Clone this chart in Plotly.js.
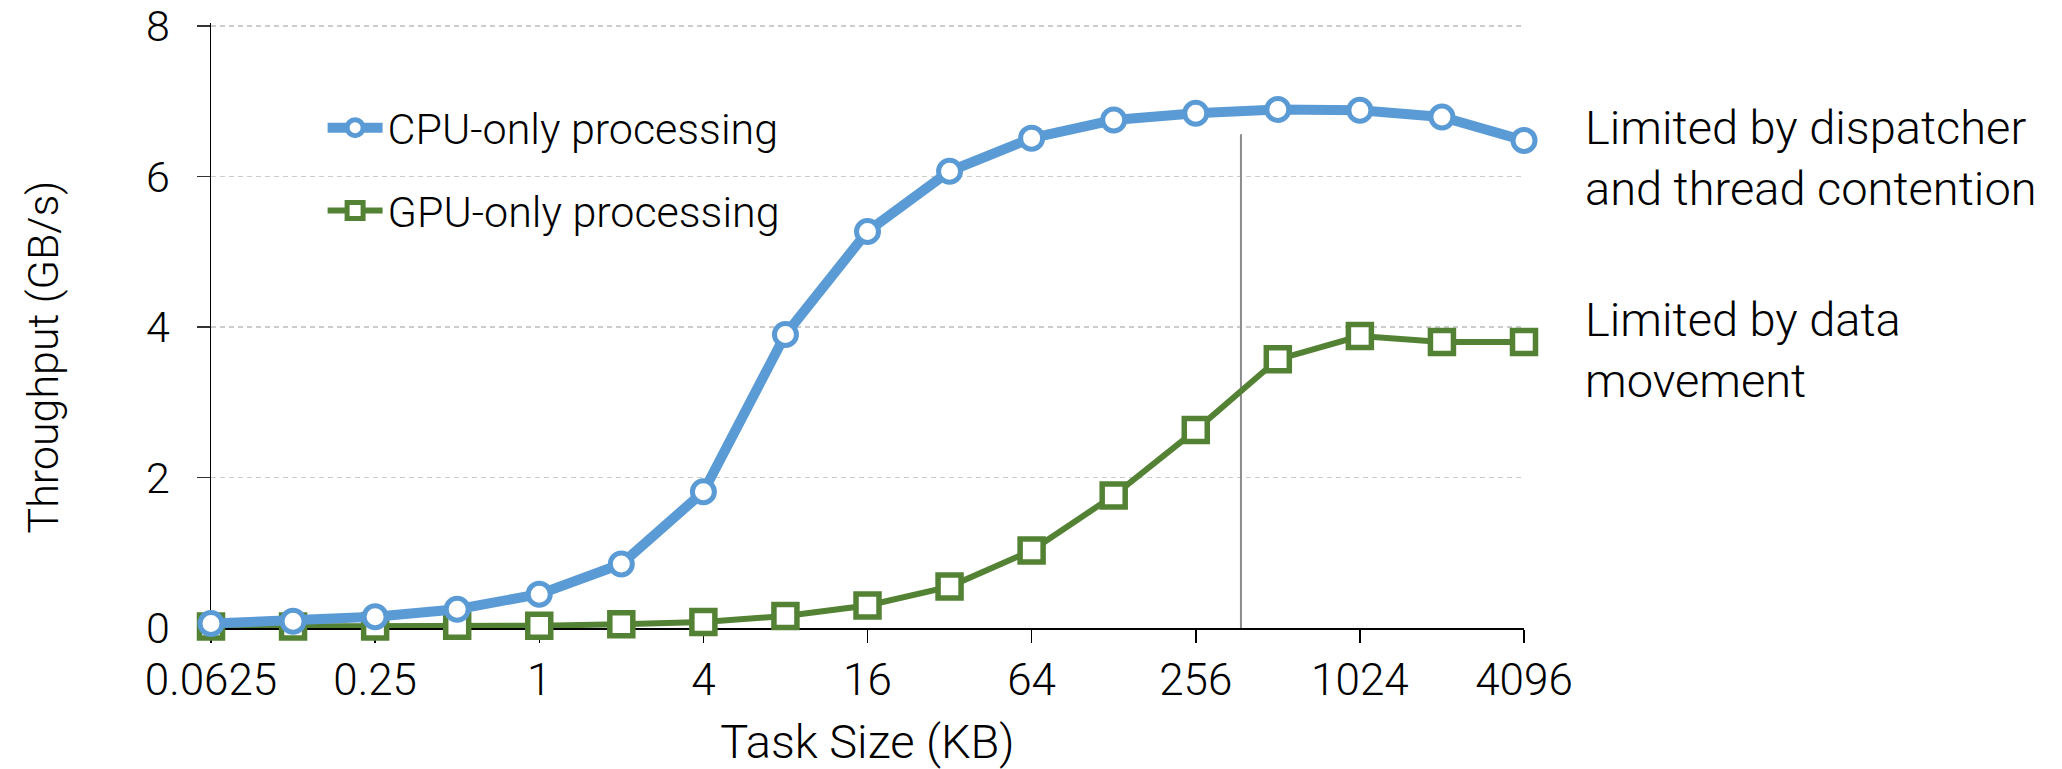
<!DOCTYPE html>
<html>
<head>
<meta charset="utf-8">
<script src="https://cdn.plot.ly/plotly-3.0.1.min.js"></script>
<style>
  html, body { margin: 0; padding: 0; background: #fff; }
  #chart { width: 2062px; height: 769px; }
</style>
</head>
<body>
<div id="chart"></div>
<script>
// Task sizes (KB)
const taskSizeKB = [0.0625, 0.125, 0.25, 0.5, 1, 2, 4, 8, 16, 32, 64, 128, 256, 512, 1024, 2048, 4096];
// Throughput (GB/s)
const cpuThroughput = [0.06, 0.09, 0.15, 0.25, 0.45, 0.85, 1.81, 3.90, 5.27, 6.07, 6.51, 6.75, 6.84, 6.89, 6.88, 6.79, 6.48];
const gpuThroughput = [0.02, 0.02, 0.02, 0.03, 0.03, 0.05, 0.08, 0.16, 0.30, 0.55, 1.03, 1.76, 2.63, 3.57, 3.88, 3.80, 3.80];
// Tick labels
const xTickVals = [0.0625, 0.25, 1, 4, 16, 64, 256, 1024, 4096];
const xTickText = ['0.0625', '0.25', '1', '4', '16', '64', '256', '1024', '4096'];
const yTickVals = [0, 2, 4, 6, 8];
// Divider line between the two regimes
const dividerX = [375, 375];
const dividerY = [0, 6.56];
// Series names, titles and notes
const seriesNames = ['CPU-only processing', 'GPU-only processing'];
const xTitle = 'Task Size (KB)';
const yTitle = 'Throughput (GB/s)';
const noteCPU = 'Limited by dispatcher<br>and thread contention';
const noteGPU = 'Limited by data<br>movement';

const FONT = '"Roboto Light", Roboto, "Liberation Sans", Arial, sans-serif';

const traces = [
  {
    x: dividerX, y: dividerY, type: 'scatter', mode: 'lines',
    line: { color: '#8c8c8c', width: 2 },
    showlegend: false, hoverinfo: 'skip', cliponaxis: false
  },
  {
    x: taskSizeKB, y: gpuThroughput, type: 'scatter', mode: 'lines+markers',
    name: seriesNames[1], legendgroup: 'g', legendrank: 2,
    line: { color: '#548235', width: 6 },
    marker: { symbol: 'square', size: 23, color: '#ffffff', line: { color: '#548235', width: 5.5 } },
    cliponaxis: false
  },
  {
    x: taskSizeKB, y: cpuThroughput, type: 'scatter', mode: 'lines+markers',
    name: seriesNames[0], legendgroup: 'c', legendrank: 1,
    line: { color: '#5b9bd5', width: 10 },
    marker: { symbol: 'circle', size: 22, color: '#ffffff', line: { color: '#5b9bd5', width: 5 } },
    cliponaxis: false
  }
];

const layout = {
  width: 2062, height: 769,
  margin: { l: 210.5, r: 537.7, t: 23, b: 141, pad: 0 },
  paper_bgcolor: '#ffffff', plot_bgcolor: '#ffffff',
  font: { family: FONT, weight: 300, color: '#000000', size: 42 },
  showlegend: true,
  legend: {
    x: 0.085, y: 0.884, xanchor: 'left', yanchor: 'top',
    bgcolor: 'rgba(0,0,0,0)', borderwidth: 0,
    font: { family: FONT, weight: 300, size: 43, color: '#000' },
    traceorder: 'grouped', tracegroupgap: 24, itemwidth: 55
  },
  xaxis: {
    type: 'log',
    range: [Math.log10(0.0625), Math.log10(4096)],
    tickvals: xTickVals, ticktext: xTickText,
    ticks: 'outside', ticklen: 13, tickwidth: 1.5, tickcolor: '#000',
    showline: true, linecolor: '#000', linewidth: 1.5,
    showgrid: false, zeroline: false,
    tickfont: { family: FONT, weight: 300, size: 44, color: '#000' },
    ticklabeloverflow: 'allow',
    title: { text: xTitle, font: { family: FONT, weight: 300, size: 47, color: '#000' }, standoff: 29 },
    layer: 'below traces', automargin: false
  },
  yaxis: {
    range: [0, 8.04],
    tickvals: yTickVals,
    ticks: 'outside', ticklen: 13, tickwidth: 1.5, tickcolor: '#333',
    showline: true, linecolor: '#000', linewidth: 1.5,
    showgrid: true, gridcolor: '#cccccc', gridwidth: 1.5, griddash: '5px,4px',
    zeroline: false,
    tickfont: { family: FONT, weight: 300, size: 43, color: '#000' },
    ticklabelstandoff: 18,
    ticklabeloverflow: 'allow',
    layer: 'below traces', automargin: false
  },
  annotations: [
    {
      xref: 'paper', yref: 'paper', x: -0.1283, y: 0.448, xanchor: 'center', yanchor: 'middle',
      text: yTitle, textangle: -90, showarrow: false,
      font: { family: FONT, weight: 300, size: 43, color: '#000' }
    },
    {
      xref: 'paper', yref: 'paper', x: 1.045, y: 0.777, xanchor: 'left', yanchor: 'middle',
      text: noteCPU, showarrow: false, align: 'left',
      font: { family: FONT, weight: 300, size: 47, color: '#000' }
    },
    {
      xref: 'paper', yref: 'paper', x: 1.045, y: 0.46, xanchor: 'left', yanchor: 'middle',
      text: noteGPU, showarrow: false, align: 'left',
      font: { family: FONT, weight: 300, size: 47, color: '#000' }
    }
  ]
};

Plotly.newPlot('chart', traces, layout, { displayModeBar: false, staticPlot: true });
</script>
</body>
</html>
